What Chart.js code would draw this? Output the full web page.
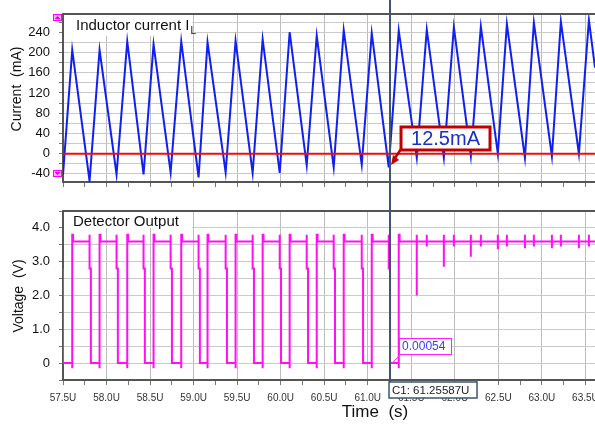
<!DOCTYPE html>
<html>
<head>
<meta charset="utf-8">
<script src="https://cdn.jsdelivr.net/npm/chart.js@4/dist/chart.umd.min.js"></script>
<style>
html, body { margin: 0; padding: 0; background: #fff; }
#top { position: absolute; left: 0; top: 0; width: 595px; height: 195px; }
#bot { position: absolute; left: 0; top: 195px; width: 595px; height: 233px; }
</style>
</head>
<body>
<div id="top"><canvas id="cTop"></canvas></div>
<div id="bot"><canvas id="cBot"></canvas></div>
<script>
// time axis (microseconds)
const tMin = 57.5, tMax = 63.61;
const timeTicks = [57.5, 57.75, 58.0, 58.25, 58.5, 58.75, 59.0, 59.25, 59.5, 59.75, 60.0, 60.25,
    60.5, 60.75, 61.0, 61.25, 61.5, 61.75, 62.0, 62.25, 62.5, 62.75, 63.0, 63.25, 63.5];
const cursorT = 61.25587;

// inductor current (mA), read at each peak / valley
const peakT = [57.606, 57.920, 58.238, 58.540, 58.858, 59.160, 59.482, 59.793, 60.103, 60.414,
    60.724, 61.046, 61.356, 61.678, 61.989, 62.299, 62.598, 62.908, 63.218, 63.540];
const peakI = [205, 205, 222, 216, 222, 220, 223, 226, 240, 233, 244, 238, 243, 245, 250, 251, 256, 259, 261, 264];
const troughT = [57.805, 58.115, 58.425, 58.736, 59.057, 59.368, 59.678, 59.989, 60.299, 60.609,
    60.931, 61.241, 61.563, 61.874, 62.184, 62.494, 62.805, 63.115, 63.425];
const troughI = [-54, -41, -41, -37, -47, -37, -38, -38, -23, -27, -22, -27, -8, -8, -5, 0, -8, -5, 0];
const startI = -42, endI = 170;
const thresholdI = 0;

const currentGrid = [-40, -20, 0, 20, 40, 60, 80, 100, 120, 140, 160, 180, 200, 220, 240, 260];
const currentLabels = [-40, 0, 40, 80, 120, 160, 200, 240];

// detector output (V)
const detHigh = 3.6, detOver = 3.8, detStep = 2.8, detUnder = -0.15, detTickLow = 3.45;
const switchingPeriods = 12;   // edges before the cursor, after that only glitches
const glitchV = [2.0, 2.85, 3.15, 3.37, 3.4, 3.4, 3.4];
const voltGrid = [-0.5, 0, 0.5, 1, 1.5, 2, 2.5, 3, 3.5, 4, 4.5];
const voltLabels = [0, 1, 2, 3, 4];

// ---- build line data
const current = [{x: tMin, y: startI}];
for (let i = 0; i < peakT.length; i++) {
    current.push({x: peakT[i], y: peakI[i]});
    if (i < troughT.length) current.push({x: troughT[i], y: troughI[i]});
}
current.push({x: tMax, y: endI});

const detector = [{x: tMin, y: detStep}, {x: tMin, y: 0}];
for (let i = 0; i < peakT.length; i++) {
    const tp = peakT[i];
    if (i <= switchingPeriods) {
        detector.push({x: tp, y: 0}, {x: tp, y: detUnder}, {x: tp, y: detOver},
            {x: tp + 0.01, y: detOver}, {x: tp + 0.01, y: detHigh});
    } else {
        detector.push({x: tp, y: detHigh}, {x: tp, y: detOver}, {x: tp, y: detTickLow}, {x: tp, y: detHigh});
    }
    if (i < troughT.length) {
        const tt = troughT[i];
        if (i < switchingPeriods) {
            detector.push({x: tt, y: detHigh}, {x: tt, y: detOver}, {x: tt, y: detStep},
                {x: tt + 0.015, y: detStep}, {x: tt + 0.015, y: 0});
        } else {
            detector.push({x: tt, y: detHigh}, {x: tt, y: detOver}, {x: tt, y: glitchV[i - switchingPeriods]}, {x: tt, y: detHigh});
        }
    }
}
detector.push({x: tMax, y: detHigh});

const FONT = 'Liberation Sans, Arial, sans-serif';
const isMajor = v => Math.abs(v * 2 - Math.round(v * 2)) < 1e-6;

function timeAxis(showLabels, height) {
    return {
        type: 'linear', min: tMin, max: tMax,
        afterBuildTicks: s => { s.ticks = timeTicks.map(v => ({value: v})); },
        afterFit: s => { s.height = height; s.paddingLeft = 0; s.paddingRight = 0; },
        border: {display: true, color: '#555', width: 2},
        grid: {
            color: c => (c.tick && isMajor(c.tick.value)) ? '#bcbcbc' : 'rgba(0,0,0,0)',
            tickColor: '#777', tickLength: 5, lineWidth: 1
        },
        ticks: {
            display: showLabels, autoSkip: false, maxRotation: 0, padding: 7, color: '#333',
            font: {family: FONT, size: 10},
            callback: v => isMajor(v) ? v.toFixed(1) + 'U' : ''
        }
    };
}

function valueAxis(min, max, grid, fmt) {
    return {
        min: min, max: max,
        afterBuildTicks: s => { s.ticks = grid.map(v => ({value: v})); },
        afterFit: s => { s.width = 63; s.paddingTop = 0; s.paddingBottom = 0; },
        border: {display: true, color: '#555', width: 2},
        grid: {color: '#cacaca', tickColor: '#777', tickLength: 4, lineWidth: 1},
        ticks: {autoSkip: false, padding: 9, color: '#111', font: {family: FONT, size: 13}, callback: fmt}
    };
}

function cursorLine(chart, yEnd) {
    const ctx = chart.ctx;
    const x = chart.scales.x.getPixelForValue(cursorT);
    ctx.save();
    ctx.strokeStyle = '#3d5570';
    ctx.lineWidth = 2;
    ctx.beginPath();
    ctx.moveTo(x, 0);
    ctx.lineTo(x, yEnd);
    ctx.stroke();
    ctx.restore();
    return x;
}

function vTitle(ctx, text, x, y) {
    ctx.save();
    ctx.translate(x, y);
    ctx.rotate(-Math.PI / 2);
    ctx.font = '14px ' + FONT;
    ctx.fillStyle = '#111';
    ctx.textAlign = 'center';
    ctx.textBaseline = 'middle';
    ctx.fillText(text, 0, 0);
    ctx.restore();
}

const topDecor = {
    id: 'topDecor',
    beforeDatasetsDraw(chart) {
        const {ctx, chartArea: a} = chart;
        ctx.save();
        ctx.fillStyle = '#fff';
        ctx.fillRect(a.left + 1, a.top + 1, 128, 21);
        ctx.fillStyle = '#111';
        ctx.font = '15px ' + FONT;
        ctx.textBaseline = 'alphabetic';
        const txt = 'Inductor current I';
        ctx.fillText(txt, a.left + 13, a.top + 16);
        const w = ctx.measureText(txt).width;
        ctx.font = '10px ' + FONT;
        ctx.fillText('L', a.left + 14 + w, a.top + 20);
        ctx.restore();
    },
    afterDatasetsDraw(chart) {
        const {ctx, chartArea: a} = chart;
        const cx = cursorLine(chart, chart.height);
        // value tag
        ctx.save();
        const bx = cx + 11, by = 127, bw = 89, bh = 23;
        ctx.fillStyle = '#fff';
        ctx.fillRect(bx, by, bw, bh);
        ctx.strokeStyle = '#c00000';
        ctx.lineWidth = 3;
        ctx.strokeRect(bx, by, bw, bh);
        ctx.fillStyle = '#1b30c4';
        ctx.font = '20px ' + FONT;
        ctx.textAlign = 'center';
        ctx.textBaseline = 'middle';
        ctx.fillText('12.5mA', bx + bw / 2, by + bh / 2 + 1);
        // arrow to cursor
        ctx.strokeStyle = '#c00000';
        ctx.fillStyle = '#c00000';
        ctx.lineWidth = 2.5;
        ctx.beginPath();
        ctx.moveTo(bx, by + bh - 1);
        ctx.lineTo(cx + 5, 158);
        ctx.stroke();
        ctx.beginPath();
        ctx.moveTo(cx + 1, 165);
        ctx.lineTo(cx + 9, 160);
        ctx.lineTo(cx + 3, 155);
        ctx.closePath();
        ctx.fill();
        ctx.restore();
        // top border
        ctx.save();
        ctx.strokeStyle = '#555';
        ctx.lineWidth = 2;
        ctx.beginPath();
        ctx.moveTo(a.left, a.top);
        ctx.lineTo(a.right, a.top);
        ctx.stroke();
        ctx.restore();
    },
    afterDraw(chart) {
        const {ctx, chartArea: a} = chart;
        vTitle(ctx, 'Current  (mA)', 17, 89);
        // scroll markers
        ctx.save();
        [[a.top, true], [a.bottom - 12, false]].forEach(([y, up]) => {
            ctx.fillStyle = '#ffb0ff';
            ctx.fillRect(53, y, 9, 7);
            ctx.strokeStyle = '#ff00ff';
            ctx.lineWidth = 1;
            ctx.strokeRect(53.5, y + 0.5, 8, 6);
            ctx.fillStyle = '#e000e0';
            ctx.beginPath();
            if (up) { ctx.moveTo(54.5, y + 5); ctx.lineTo(60.5, y + 5); ctx.lineTo(57.5, y + 2); }
            else { ctx.moveTo(54.5, y + 2); ctx.lineTo(60.5, y + 2); ctx.lineTo(57.5, y + 5); }
            ctx.closePath();
            ctx.fill();
        });
        ctx.restore();
    }
};

const botDecor = {
    id: 'botDecor',
    beforeDatasetsDraw(chart) {
        const {ctx, chartArea: a} = chart;
        ctx.save();
        ctx.fillStyle = '#fff';
        ctx.fillRect(a.left + 1, a.top + 1, 128, 16);
        ctx.fillStyle = '#111';
        ctx.font = '15px ' + FONT;
        ctx.textBaseline = 'middle';
        ctx.fillText('Detector Output', a.left + 10, a.top + 11);
        ctx.restore();
    },
    afterDatasetsDraw(chart) {
        const {ctx, chartArea: a} = chart;
        const cx = cursorLine(chart, 188);
        ctx.save();
        // top border
        ctx.strokeStyle = '#555';
        ctx.lineWidth = 2;
        ctx.beginPath();
        ctx.moveTo(a.left, a.top);
        ctx.lineTo(a.right, a.top);
        ctx.stroke();
        // value tag at cursor
        const py = chart.scales.y.getPixelForValue(0);
        ctx.strokeStyle = '#ff20ff';
        ctx.lineWidth = 1;
        ctx.beginPath();
        ctx.moveTo(cx + 2, py);
        ctx.lineTo(cx + 9, py - 7);
        ctx.stroke();
        ctx.fillStyle = '#fff';
        ctx.fillRect(cx + 9, 143, 52, 16);
        ctx.strokeRect(cx + 9.5, 143.5, 52, 16);
        ctx.fillStyle = '#3b3bff';
        ctx.font = '12px ' + FONT;
        ctx.textBaseline = 'middle';
        ctx.fillText('0.00054', cx + 12, 152);
        // cursor readout
        ctx.fillStyle = '#fff';
        ctx.fillRect(cx - 1, 187, 88, 16);
        ctx.strokeStyle = '#3d5570';
        ctx.lineWidth = 1.5;
        ctx.strokeRect(cx - 1, 187, 88, 16);
        ctx.fillStyle = '#222';
        ctx.font = '11.5px ' + FONT;
        ctx.fillText('C1: 61.25587U', cx + 2, 195.5);
        ctx.restore();
    },
    afterDraw(chart) {
        const ctx = chart.ctx;
        vTitle(ctx, 'Voltage  (V)', 19, 101);
        ctx.save();
        ctx.font = '17px ' + FONT;
        ctx.fillStyle = '#111';
        ctx.textAlign = 'center';
        ctx.textBaseline = 'middle';
        ctx.fillText('Time  (s)', 375, 217);
        ctx.restore();
    }
};

const common = {
    responsive: true,
    maintainAspectRatio: false,
    animation: false,
    events: [],
    plugins: {legend: {display: false}, tooltip: {enabled: false}}
};

new Chart(document.getElementById('cTop'), {
    type: 'scatter',
    data: {
        datasets: [
            {
                label: 'Threshold',
                data: [{x: tMin, y: thresholdI}, {x: tMax, y: thresholdI}],
                showLine: true, borderColor: '#e81010', borderWidth: 2, pointRadius: 0
            },
            {
                label: 'Inductor current',
                data: current,
                showLine: true, borderColor: '#1020ee', borderWidth: 2, pointRadius: 0
            }
        ]
    },
    options: Object.assign({}, common, {
        layout: {padding: {top: 14, right: 0, left: 0, bottom: 0}},
        scales: {
            x: timeAxis(false, 13),
            y: valueAxis(-56, 276, currentGrid, v => currentLabels.includes(v) ? String(v) : '')
        }
    }),
    plugins: [topDecor]
});

new Chart(document.getElementById('cBot'), {
    type: 'scatter',
    data: {
        datasets: [
            {
                label: 'Detector Output',
                data: detector,
                showLine: true, borderColor: '#ff10f0', borderWidth: 2, pointRadius: 0
            }
        ]
    },
    options: Object.assign({}, common, {
        layout: {padding: {top: 16, right: 0, left: 0, bottom: 0}},
        scales: {
            x: timeAxis(true, 48),
            y: valueAxis(-0.5, 4.5, voltGrid, v => voltLabels.includes(v) ? (v === 0 ? '0' : v.toFixed(1)) : '')
        }
    }),
    plugins: [botDecor]
});
</script>
</body>
</html>
